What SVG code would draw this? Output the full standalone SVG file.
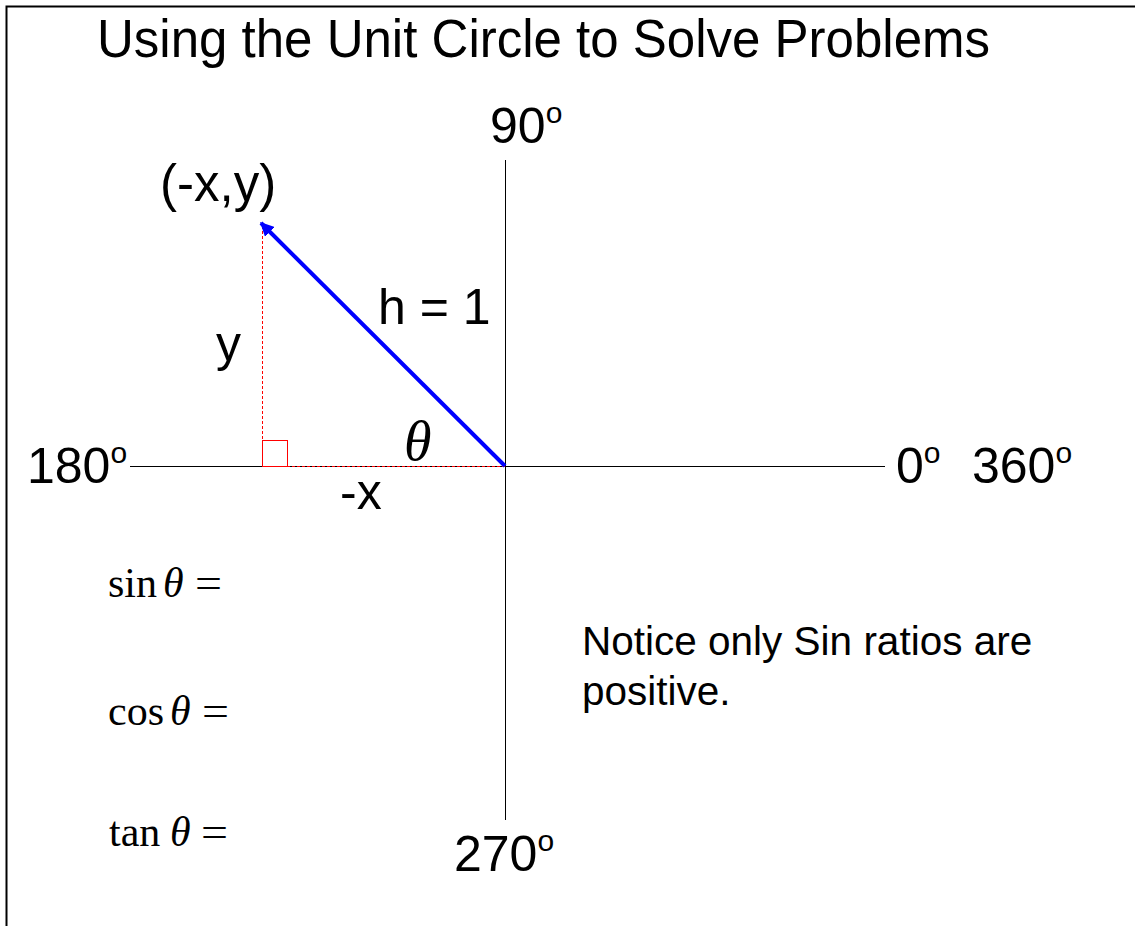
<svg xmlns="http://www.w3.org/2000/svg" width="1135" height="926" viewBox="0 0 1135 926">
<defs>
<style>
.s{font-family:"Liberation Sans",Arial,sans-serif;fill:#000}
.m{font-family:"Liberation Serif","Times New Roman",serif;fill:#000}
.ax{stroke:#000;stroke-width:1;fill:none}
.red{stroke:#ff0000;stroke-width:1;fill:none}
.deg{font-size:30px}
</style>
<marker id="ah" viewBox="0 0 10 10" refX="9" refY="5" markerWidth="3.5" markerHeight="3.5" orient="auto" markerUnits="strokeWidth">
<path d="M0,0 L10,5 L0,10 z" fill="#0000ff"/>
</marker>
</defs>
<rect x="0" y="0" width="1135" height="926" fill="#fff"/>
<path d="M6.5,926 V6.5 H1135" stroke="#000" stroke-width="2" fill="none"/>
<text class="s" x="97" y="57" font-size="53" textLength="893" lengthAdjust="spacingAndGlyphs">Using the Unit Circle to Solve Problems</text>
<g id="axes">
<line class="ax" x1="130" y1="466.5" x2="885" y2="466.5"/>
<line class="ax" x1="505.5" y1="160" x2="505.5" y2="820"/>
</g>
<g id="triangle">
<line class="red" x1="262.5" y1="226" x2="262.5" y2="466" stroke-dasharray="3,2"/>
<line class="red" x1="262" y1="466.5" x2="505" y2="466.5" stroke-dasharray="3,2"/>
<rect class="red" x="262.5" y="440.5" width="25" height="26"/>
</g>
<g id="connectors">
<line x1="505" y1="466" x2="261" y2="223" stroke="#0000ff" stroke-width="4" marker-end="url(#ah)"/>
</g>
<g id="labels">
<text class="s" x="490" y="143" font-size="50">90<tspan class="deg" dy="-20">o</tspan></text>
<text class="s" x="160" y="201" font-size="51">(-x,y)</text>
<text class="s" x="378" y="324" font-size="50">h = 1</text>
<text class="s" x="216" y="361" font-size="50">y</text>
<text class="m" x="404" y="460" font-size="56" font-style="italic">θ</text>
<text class="s" x="340" y="509" font-size="50">-x</text>
<text class="s" x="27" y="483" font-size="50">180<tspan class="deg" dy="-20">o</tspan></text>
<text class="s" x="896" y="483" font-size="50">0<tspan class="deg" dy="-20">o</tspan></text>
<text class="s" x="972" y="483" font-size="50">360<tspan class="deg" dy="-20">o</tspan></text>
<text class="s" x="454" y="871" font-size="50">270<tspan class="deg" dy="-20">o</tspan></text>
<g font-size="42">
<text class="m" x="108" y="597">sin</text>
<text class="m" x="163" y="597" font-style="italic">θ</text>
<text class="m" x="195" y="597" textLength="27" lengthAdjust="spacingAndGlyphs">=</text>
<text class="m" x="108" y="725">cos</text>
<text class="m" x="170" y="725" font-style="italic">θ</text>
<text class="m" x="202" y="725" textLength="27" lengthAdjust="spacingAndGlyphs">=</text>
<text class="m" x="109" y="846">tan</text>
<text class="m" x="170" y="846" font-style="italic">θ</text>
<text class="m" x="201" y="846" textLength="27" lengthAdjust="spacingAndGlyphs">=</text>
</g>
<text class="s" x="582" y="655" font-size="40.5">Notice only Sin ratios are</text>
<text class="s" x="582" y="705" font-size="40.5">positive.</text>
</g>
</svg>
